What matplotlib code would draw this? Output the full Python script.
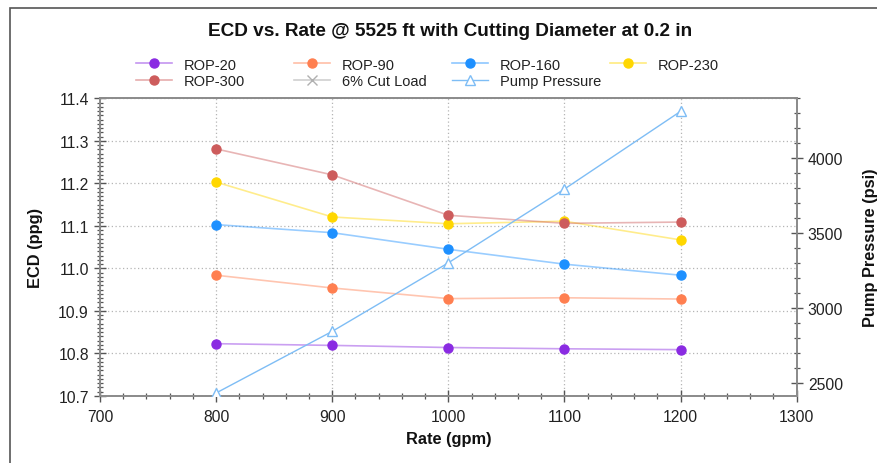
import matplotlib
matplotlib.use("Agg")
import matplotlib.pyplot as plt
from matplotlib.colors import to_rgba
from matplotlib.lines import Line2D
from matplotlib.patches import Rectangle
from matplotlib.ticker import MultipleLocator, FormatStrFormatter

plt.rcParams['font.family'] = ['Liberation Sans', 'DejaVu Sans']

# Flow rates (gpm)
rate = [800, 900, 1000, 1100, 1200]

# ECD (ppg) per rate of penetration
rop_20 = [10.823, 10.819, 10.814, 10.811, 10.809]
rop_90 = [10.984, 10.954, 10.929, 10.931, 10.928]
rop_160 = [11.103, 11.084, 11.045, 11.010, 10.984]
rop_230 = [11.203, 11.121, 11.105, 11.111, 11.067]
rop_300 = [11.281, 11.220, 11.125, 11.106, 11.109]
cut_load_6 = []  # no points in this range

# Pump pressure (psi)
pump_pressure = [2435, 2846, 3303, 3795, 4313]

series = [
    ("ROP-20", rop_20, "#8A2BE2"),
    ("ROP-90", rop_90, "#FF7F50"),
    ("ROP-160", rop_160, "#1E90FF"),
    ("ROP-230", rop_230, "#FFD700"),
    ("ROP-300", rop_300, "#CD5C5C"),
]

W, H = 878, 464
fig = plt.figure(figsize=(W / 100, H / 100), dpi=100)

# outer frame
fig.patches.append(Rectangle((10 / W, -0.1), 1.2, 1.1 - 9 / H,
                             transform=fig.transFigure, fill=False,
                             edgecolor="#555555", linewidth=1.2))

ax = fig.add_axes([100 / W, 1 - 397 / H, 696.7 / W, (397 - 99.3) / H])
ax2 = ax.twinx()

handles = {}
for name, vals, col in series:
    ax.plot(rate, vals, color=col, alpha=0.45, linewidth=1.2, zorder=3)
    ax.plot(rate, vals, linestyle="none", marker="o", markersize=6.5,
            color=col, zorder=4)
    handles[name] = Line2D([], [], color=to_rgba(col, 0.5), linewidth=1.2,
                           marker="o", markersize=6.5,
                           markerfacecolor=col, markeredgecolor=col)

ax.plot(rate[:len(cut_load_6)], cut_load_6, color="#BDBDBD", marker="x")
handles["6% Cut Load"] = Line2D([], [], color="#D0D0D0", marker="x",
                                markersize=7, markeredgecolor="#B0B0B0",
                                linewidth=1.2)

pp_col = "#7EBDF5"
ax2.plot(rate, pump_pressure, color=pp_col, linewidth=1.0, marker="^",
         markersize=7, markerfacecolor="white", markeredgecolor=pp_col,
         zorder=5)
handles["Pump Pressure"] = Line2D([], [], color=pp_col, linewidth=1.0,
                                  marker="^", markersize=7,
                                  markerfacecolor="white",
                                  markeredgecolor=pp_col)

ax.set_xlim(700, 1300)
ax.set_ylim(10.7, 11.4)
ax2.set_ylim(2415, 4400)

ax.xaxis.set_major_locator(MultipleLocator(100))
ax.xaxis.set_minor_locator(MultipleLocator(20))
ax.yaxis.set_major_locator(MultipleLocator(0.1))
ax.yaxis.set_minor_locator(MultipleLocator(0.01))
ax2.yaxis.set_major_locator(MultipleLocator(500))
ax2.yaxis.set_minor_locator(MultipleLocator(100))
ax.yaxis.set_major_formatter(FormatStrFormatter("%.1f"))

ax.grid(True, which="major", linestyle=(0, (1, 2)), color="#b5b5b5",
        linewidth=0.9)
ax.set_axisbelow(True)

for a in (ax, ax2):
    for s in a.spines.values():
        s.set_color("#8c8c8c")
        s.set_linewidth(1.3)
    a.tick_params(which="major", direction="inout", length=9, width=1,
                  color="#555555", labelsize=11.3, labelcolor="#222222")
    a.tick_params(which="minor", direction="inout", length=5, width=0.9,
                  color="#555555")
ax.tick_params(axis="x", pad=5)

bold = dict(fontsize=11.8, fontweight="bold", color="#111111")
ax.set_xlabel("Rate (gpm)", labelpad=5, **bold)
ax.set_ylabel("ECD (ppg)", labelpad=11, **bold)
ax2.set_ylabel("Pump Pressure (psi)", labelpad=14, **bold)

fig.text(450 / W, 1 - 31 / H,
         "ECD vs. Rate @ 5525 ft with Cutting Diameter at 0.2 in",
         ha="center", va="center", fontsize=13.7, fontweight="bold",
         color="#111111")

# legend laid out in four evenly spaced columns
columns = [
    ["ROP-20", "ROP-300"],
    ["ROP-90", "6% Cut Load"],
    ["ROP-160", "Pump Pressure"],
    ["ROP-230"],
]
col_x = [136, 294, 452, 610]
for names, x in zip(columns, col_x):
    leg = fig.legend([handles[n] for n in names], names,
                     loc="upper left", bbox_to_anchor=(x / W, 1 - 58.5 / H),
                     frameon=False, fontsize=10.5, handlelength=2.5,
                     handletextpad=0.8, borderpad=0, borderaxespad=0,
                     labelspacing=0.18)
    for t in leg.get_texts():
        t.set_color("#222222")

fig.savefig("out.png", dpi=100)
